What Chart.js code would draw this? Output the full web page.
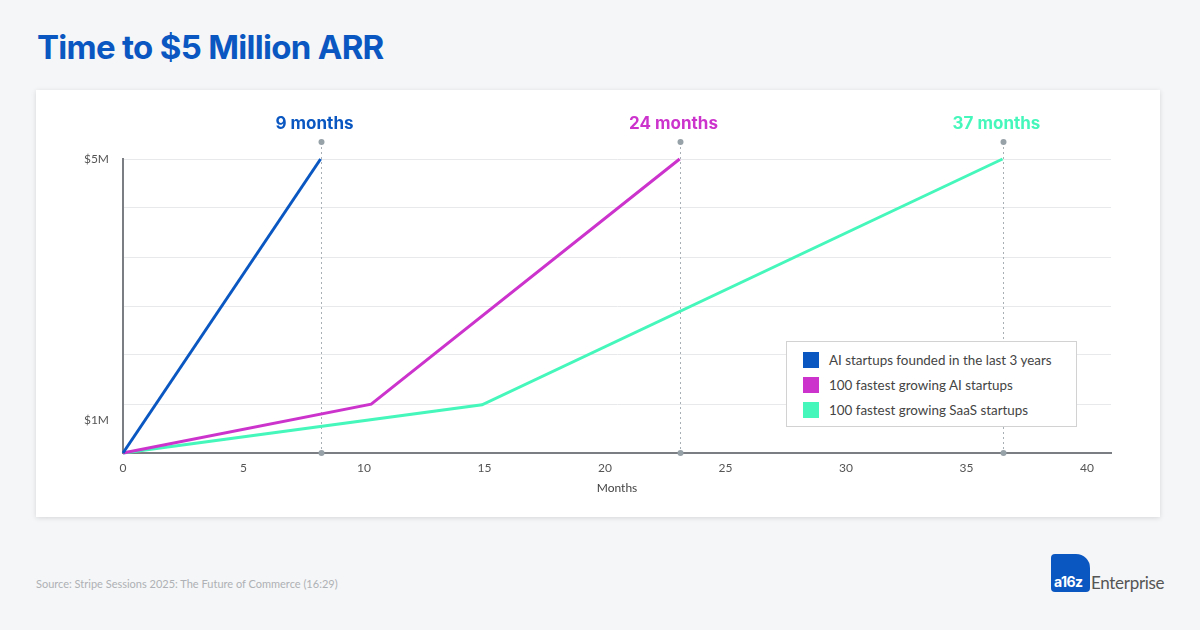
<!DOCTYPE html>
<html>
<head>
<meta charset="utf-8">
<script src="https://cdn.jsdelivr.net/npm/chart.js@4.4.1/dist/chart.umd.min.js"></script>
<style>
  body { margin: 0; width: 1200px; height: 630px; background: #f5f6f7; font-family: Lato, sans-serif; position: relative; overflow: hidden; }
  h1 { position: absolute; left: 37px; top: 27px; margin: 0; font: 700 33px Inter, sans-serif; letter-spacing: -0.7px; color: #0a57c2; }
  .card { position: absolute; left: 36px; top: 90px; width: 1124px; height: 427px; background: #fff; box-shadow: 0 1px 5px rgba(0,0,0,0.13); }
  #chart1 { position: absolute; left: 0; top: 0; }
  .legend { position: absolute; left: 750px; top: 251px; width: 289px; height: 84px; border: 1px solid #d2d2d2; background: #fff; }
  .legend div { position: absolute; left: 16px; height: 16px; font: 13.4px Lato, sans-serif; color: #444; line-height: 16px; white-space: nowrap; }
  .legend span { display: inline-block; width: 16px; height: 16px; vertical-align: top; margin-right: 10px; }
  .source { position: absolute; left: 36px; top: 577px; font: 11px Lato, sans-serif; color: #aeb1b5; }
  .logo { position: absolute; left: 1051px; top: 554px; width: 39px; height: 38px; background: #0a57c2; border-radius: 4px 14px 4px 4px; }
  .logo b { position: absolute; left: 3px; bottom: 2px; color: #fff; font: 700 14px Inter, sans-serif; letter-spacing: -0.6px; }
  .ent { position: absolute; left: 1091px; top: 572px; font: 17px Lato, sans-serif; color: #555; letter-spacing: -0.3px; }
</style>
</head>
<body>
<h1>Time to $5 Million ARR</h1>
<div class="card">
  <canvas id="chart1" width="1124" height="427"></canvas>
  <div class="legend" id="legend"></div>
</div>
<div class="source">Source: Stripe Sessions 2025: The Future of Commerce (16:29)</div>
<div class="logo"><b>a16z</b></div>
<div class="ent">Enterprise</div>

<script>
const ctx1 = document.querySelector('#chart1');

// series (x = months, y = $M)
const seriesNames = ['AI startups founded in the last 3 years', '100 fastest growing AI startups', '100 fastest growing SaaS startups'];
const seriesColors = ['#0a57c2', '#cc33cc', '#45f7bb'];

const aiNewMonths = [0, 8.2];
const aiNewArr = [0, 5];
const aiTopMonths = [0, 10.3, 23.1];
const aiTopArr = [0, 0.83, 5];
const saasMonths = [0, 14.9, 36.5];
const saasArr = [0, 0.82, 5];

// markers on top of the chart
const peakMonths = [8.2, 23.1, 36.5];
const peakLabels = ['9 months', '24 months', '37 months'];

// axes
const xTicks = [0, 5, 10, 15, 20, 25, 30, 35, 40];
const yGrid = [0, 0.833, 1.667, 2.5, 3.333, 4.167, 5];
const yLabelValues = [0.56, 5];
const yLabels = ['$1M', '$5M'];

const toPoints = (xs, ys) => xs.map((x, i) => ({ x: x, y: ys[i] }));

// legend
const legend = document.querySelector('#legend');
seriesNames.forEach((name, i) => {
  const row = document.createElement('div');
  row.style.top = (10 + i * 25) + 'px';
  row.innerHTML = '<span style="background:' + seriesColors[i] + '"></span>' + name;
  legend.appendChild(row);
});

const peakPlugin = {
  id: 'peaks',
  beforeDatasetsDraw(chart) {
    const { ctx, chartArea, scales } = chart;
    ctx.save();
    ctx.strokeStyle = '#a9b0b5';
    ctx.lineWidth = 1;
    ctx.setLineDash([2, 3]);
    peakMonths.forEach(m => {
      const x = Math.round(scales.x.getPixelForValue(m)) + 0.5;
      ctx.beginPath();
      ctx.moveTo(x, chartArea.top - 17);
      ctx.lineTo(x, chartArea.bottom);
      ctx.stroke();
    });
    ctx.restore();
  },
  afterDatasetsDraw(chart) {
    const { ctx, chartArea, scales } = chart;
    ctx.save();
    peakMonths.forEach((m, i) => {
      const x = Math.round(scales.x.getPixelForValue(m)) + 0.5;
      ctx.fillStyle = '#97a1a8';
      [chartArea.top - 17, chartArea.bottom].forEach(y => {
        ctx.beginPath();
        ctx.arc(x, y, 3, 0, Math.PI * 2);
        ctx.fill();
      });
      ctx.fillStyle = seriesColors[i];
      ctx.font = '700 17px Inter, sans-serif';
      ctx.textAlign = 'center';
      ctx.textBaseline = 'middle';
      ctx.fillText(peakLabels[i], x - 7, chartArea.top - 35);
    });
    ctx.restore();
  }
};

const chart1 = new Chart(ctx1, {
  type: 'line',
  data: {
    datasets: [
      { label: seriesNames[0], data: toPoints(aiNewMonths, aiNewArr), borderColor: seriesColors[0] },
      { label: seriesNames[1], data: toPoints(aiTopMonths, aiTopArr), borderColor: seriesColors[1] },
      { label: seriesNames[2], data: toPoints(saasMonths, saasArr), borderColor: seriesColors[2] }
    ].map(d => Object.assign(d, { borderWidth: 3, pointRadius: 0, clip: false, tension: 0 }))
  },
  options: {
    responsive: false,
    animation: false,
    devicePixelRatio: 1,
    layout: { padding: { left: 0, top: 69, right: 49, bottom: 0 } },
    plugins: { legend: { display: false }, tooltip: { enabled: false } },
    scales: {
      x: {
        type: 'linear',
        min: 0,
        max: 41,
        afterBuildTicks: (scale) => { scale.ticks = xTicks.map(v => ({ value: v })); },
        afterFit: (scale) => { scale.height = 64; },
        grid: { color: 'rgba(0,0,0,0)', drawTicks: false },
        border: { color: '#7b7f83', width: 2 },
        ticks: { color: '#555', font: { family: 'Lato', size: 12 }, padding: 8, maxRotation: 0 },
        title: { display: true, text: 'Months', color: '#444', font: { family: 'Lato', size: 12 }, padding: { top: 0, bottom: 22 } }
      },
      y: {
        type: 'linear',
        min: 0,
        max: 5,
        afterBuildTicks: (scale) => {
          const vals = yGrid.concat(yLabelValues.filter(v => !yGrid.includes(v))).sort((a, b) => a - b);
          scale.ticks = vals.map(v => ({ value: v }));
        },
        afterFit: (scale) => { scale.width = 87; },
        grid: {
          drawTicks: false,
          color: (c) => (c.tick && yGrid.includes(c.tick.value) ? '#e8e9ea' : 'rgba(0,0,0,0)')
        },
        border: { color: '#7b7f83', width: 2 },
        ticks: {
          color: '#555',
          font: { family: 'Lato', size: 12 },
          padding: 14,
          callback: (v) => {
            const i = yLabelValues.indexOf(v);
            return i >= 0 ? yLabels[i] : '';
          }
        }
      }
    }
  },
  plugins: [peakPlugin]
});
</script>
</body>
</html>
